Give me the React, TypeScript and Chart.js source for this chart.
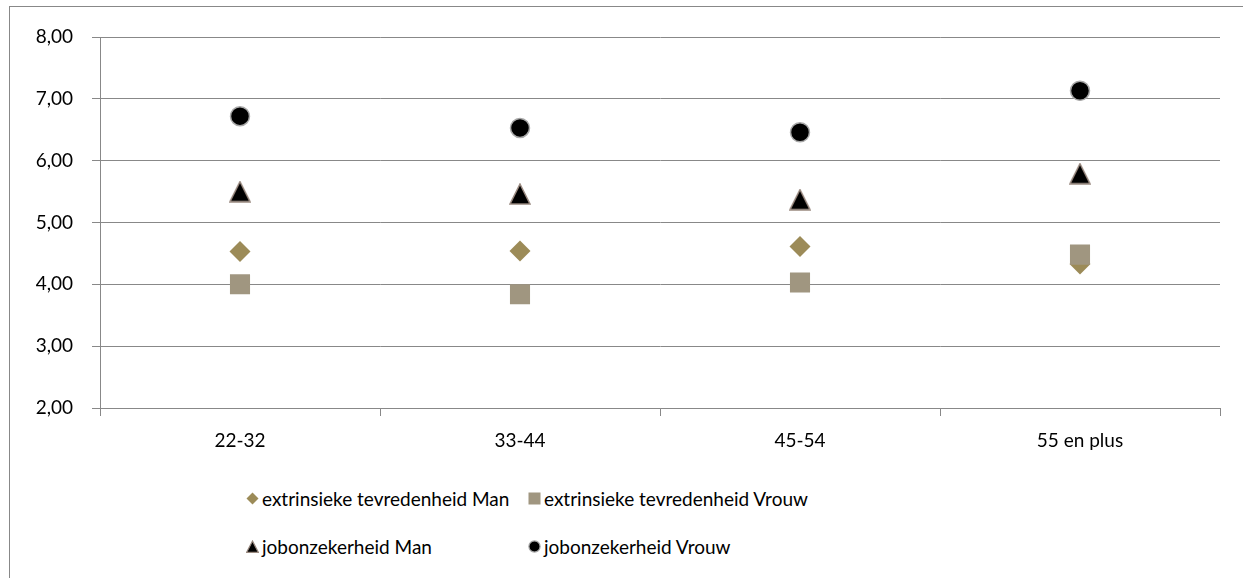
import React, { useEffect, useRef } from "react";
import { Chart, registerables } from "chart.js";

Chart.register(...registerables);

// Age groups on the x axis
const ageGroups = ["22-32", "33-44", "45-54", "55 en plus"];

// Mean scores per age group
const extrinsiekMan = [4.53, 4.54, 4.61, 4.33];
const extrinsiekVrouw = [4.0, 3.84, 4.03, 4.48];
const jobonzekerheidMan = [5.5, 5.46, 5.37, 5.79];
const jobonzekerheidVrouw = [6.72, 6.53, 6.46, 7.13];

const seriesNames = [
  "extrinsieke tevredenheid Man",
  "extrinsieke tevredenheid Vrouw",
  "jobonzekerheid Man",
  "jobonzekerheid Vrouw",
];

const yMin = 2;
const yMax = 8;

const FONT = "Lato, 'Open Sans', sans-serif";
const FONT_SIZE = 19;
const GRID = "#888888";
const TEXT = "#000000";

const DIAMOND_FILL = "#9C8B58";
const SQUARE_FILL = "#A09680";
const TRIANGLE_EDGE = "#9A8A80";
const CIRCLE_EDGE = "#A8A8A8";

// Triangle marker whose bounding box is centred on the data point
function makeTriangle(size: number): HTMLCanvasElement {
  const c = document.createElement("canvas");
  c.width = size + 2;
  c.height = size + 2;
  const ctx = c.getContext("2d")!;
  ctx.beginPath();
  ctx.moveTo(c.width / 2, 1);
  ctx.lineTo(c.width - 1, c.height - 1);
  ctx.lineTo(1, c.height - 1);
  ctx.closePath();
  ctx.fillStyle = "#000000";
  ctx.fill();
  ctx.lineWidth = 1.5;
  ctx.strokeStyle = TRIANGLE_EDGE;
  ctx.stroke();
  return c;
}

function LegendMarker({ kind }: { kind: number }) {
  const s = 13;
  let shape: React.ReactNode = null;
  if (kind === 0) {
    shape = <polygon points={`6.5,0.5 12.5,6.5 6.5,12.5 0.5,6.5`} fill={DIAMOND_FILL} />;
  } else if (kind === 1) {
    shape = <rect x={0.5} y={0.5} width={12} height={12} fill={SQUARE_FILL} />;
  } else if (kind === 2) {
    shape = (
      <polygon points={`6.5,1 12.3,12.3 0.7,12.3`} fill="#000" stroke={TRIANGLE_EDGE} strokeWidth={1.2} />
    );
  } else {
    shape = <circle cx={6.5} cy={6.5} r={5.6} fill="#000" stroke={CIRCLE_EDGE} strokeWidth={1.2} />;
  }
  return (
    <svg width={s} height={s} style={{ display: "block" }}>
      {shape}
    </svg>
  );
}

export default function App() {
  const canvasRef = useRef<HTMLCanvasElement | null>(null);

  useEffect(() => {
    if (!canvasRef.current) return;
    const triangle = makeTriangle(20);
    const chart = new Chart(canvasRef.current, {
      type: "line",
      data: {
        labels: ageGroups,
        datasets: [
          {
            label: seriesNames[0],
            data: extrinsiekMan,
            showLine: false,
            pointStyle: "rectRot",
            pointRadius: 10.5,
            pointBackgroundColor: DIAMOND_FILL,
            pointBorderColor: DIAMOND_FILL,
            pointBorderWidth: 0,
            order: 2,
          },
          {
            label: seriesNames[1],
            data: extrinsiekVrouw,
            showLine: false,
            pointStyle: "rect",
            pointRadius: 14.2,
            pointBackgroundColor: SQUARE_FILL,
            pointBorderColor: SQUARE_FILL,
            pointBorderWidth: 0,
            order: 1,
          },
          {
            label: seriesNames[2],
            data: jobonzekerheidMan,
            showLine: false,
            pointStyle: triangle,
            pointRadius: 10,
            order: 3,
          },
          {
            label: seriesNames[3],
            data: jobonzekerheidVrouw,
            showLine: false,
            pointStyle: "circle",
            pointRadius: 9.5,
            pointBackgroundColor: "#000000",
            pointBorderColor: CIRCLE_EDGE,
            pointBorderWidth: 1.5,
            order: 4,
          },
        ],
      },
      options: {
        responsive: false,
        animation: false,
        events: [],
        layout: { padding: { left: 10, right: 23, top: 37, bottom: 0 } },
        plugins: {
          legend: { display: false },
          tooltip: { enabled: false },
        },
        scales: {
          x: {
            type: "category",
            offset: true,
            grid: {
              offset: true,
              drawOnChartArea: false,
              drawTicks: true,
              tickLength: 8,
              color: GRID,
              lineWidth: 1,
            },
            border: { display: true, color: GRID, width: 1 },
            ticks: {
              color: TEXT,
              padding: 13,
              font: { family: FONT, size: FONT_SIZE },
              maxRotation: 0,
            },
            afterFit: (scale: any) => {
              scale.height = 72;
            },
          },
          y: {
            min: yMin,
            max: yMax,
            grid: {
              color: GRID,
              lineWidth: 1,
              tickLength: 8,
              drawTicks: true,
            },
            border: { display: true, color: GRID, width: 1 },
            ticks: {
              stepSize: 1,
              color: TEXT,
              padding: 19,
              font: { family: FONT, size: FONT_SIZE },
              callback: (v: any) => Number(v).toFixed(2).replace(".", ","),
            },
            afterFit: (scale: any) => {
              scale.width = 90;
            },
          },
        },
      },
    });
    return () => chart.destroy();
  }, []);

  const legendRows = [
    [0, 1],
    [2, 3],
  ];
  const colX = [246, 528];
  const rowY = [498, 546];

  return (
    <div
      style={{
        position: "absolute",
        left: 0,
        top: 0,
        width: 1243,
        height: 578,
        overflow: "hidden",
        background: "#ffffff",
        fontFamily: FONT,
      }}
    >
      <div
        style={{
          position: "absolute",
          left: 9,
          top: 6,
          width: 1400,
          height: 800,
          border: `1px solid ${GRID}`,
          boxSizing: "border-box",
        }}
      />
      <canvas
        ref={canvasRef}
        width={1243}
        height={480}
        style={{ position: "absolute", left: 0, top: 0, width: 1243, height: 480 }}
      />
      {legendRows.map((row, ri) =>
        row.map((k, ci) => (
          <div
            key={k}
            style={{
              position: "absolute",
              left: colX[ci],
              top: rowY[ri] - 13,
              height: 26,
              display: "flex",
              alignItems: "center",
              gap: 3,
              fontSize: FONT_SIZE,
              color: TEXT,
              whiteSpace: "nowrap",
            }}
          >
            <LegendMarker kind={k} />
            <span>{seriesNames[k]}</span>
          </div>
        ))
      )}
    </div>
  );
}
